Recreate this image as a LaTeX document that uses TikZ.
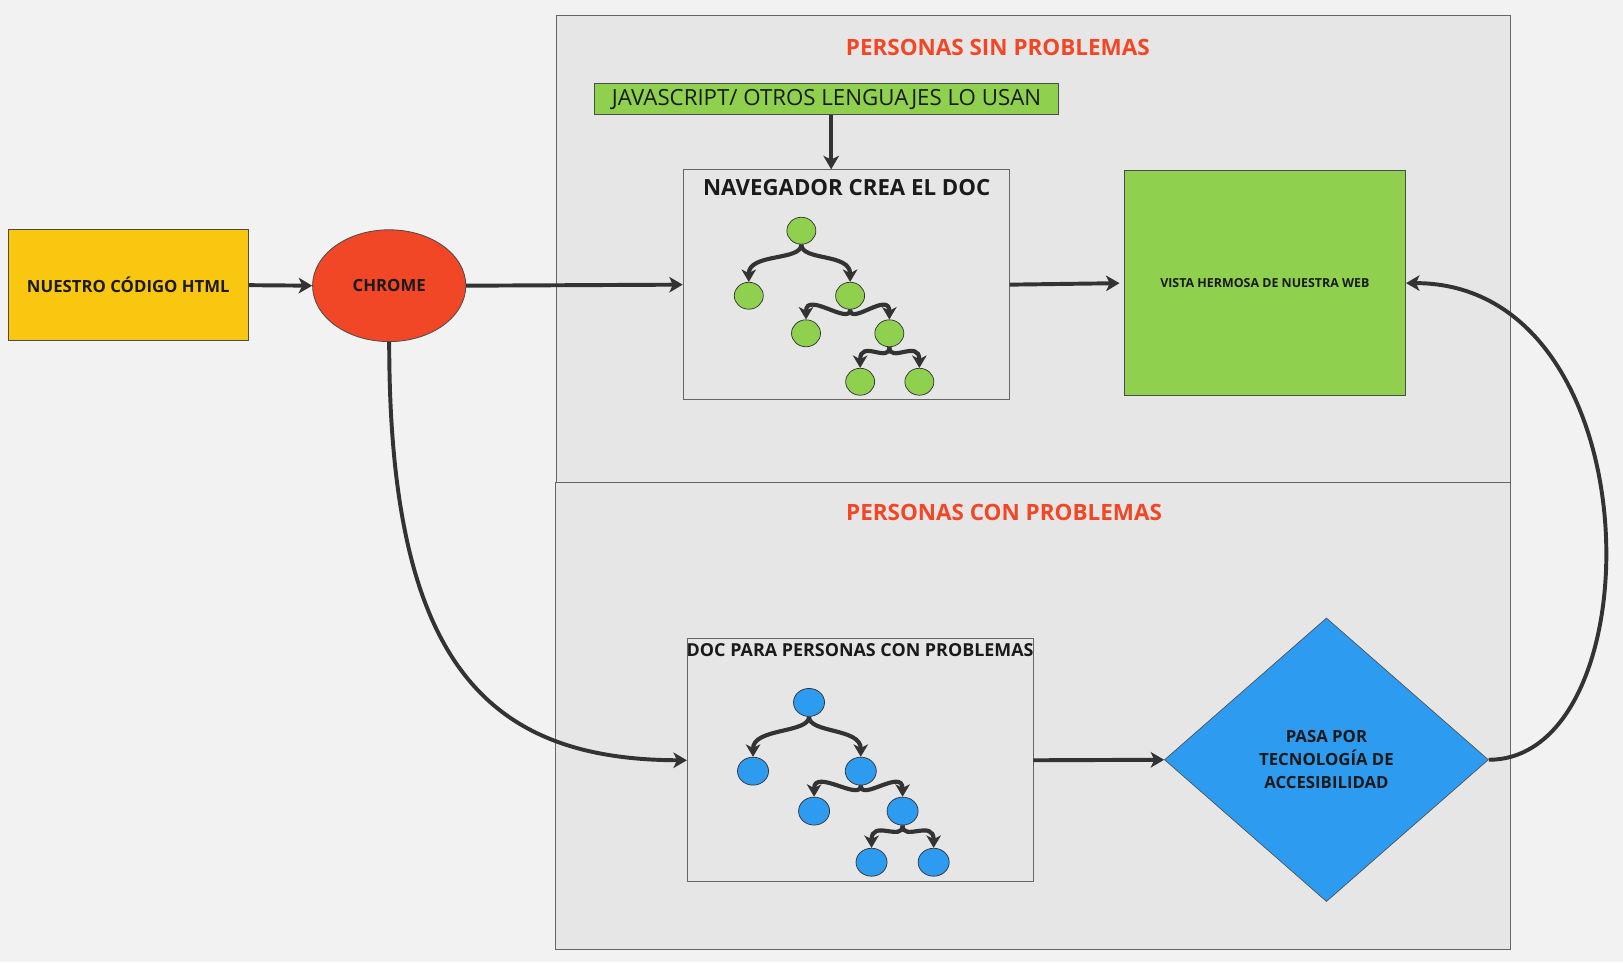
\documentclass[tikz,border=0pt]{standalone}
\usepackage{fontspec}
\setmainfont{Open Sans}
\usetikzlibrary{shapes.geometric,arrows.meta}
\definecolor{bgc}{HTML}{F2F2F2}
\definecolor{framec}{HTML}{E6E6E6}
\definecolor{greenc}{HTML}{8FD14F}
\definecolor{yellowc}{HTML}{FAC710}
\definecolor{redc}{HTML}{F24726}
\definecolor{bluec}{HTML}{2D9BF0}
\definecolor{arrowc}{HTML}{333333}
\definecolor{textc}{HTML}{1A1A1A}
\tikzset{
  box/.style={draw=#1, line width=0.8, inner sep=0, rectangle, text=textc},
  box/.default={black!70},
  mainarrow/.style={draw=arrowc, line width=3.8, -{Stealth[length=13,width=15,inset=3.5]}},
  treearrow/.style={draw=arrowc, line width=4, -{Stealth[length=12,width=14,inset=3.5]}},
  gnode/.style={ellipse, draw=black!80, line width=0.7, fill=greenc, minimum width=28, minimum height=26, inner sep=0},
  bnode/.style={ellipse, draw=black!80, line width=0.7, fill=bluec, minimum width=30, minimum height=27, inner sep=0},
  titletext/.style={text=redc, font=\bfseries\fontsize{21.7}{26}\selectfont, inner sep=0},
}
\newcommand{\treelink}[2]{\draw[treearrow] (#1.south) .. controls +(0,16) and +(0,-28) .. (#2.north);}
\begin{document}
\begin{tikzpicture}[x=1pt,y=-1pt]
\useasboundingbox (0,0) rectangle (1568,929.5);
\fill[bgc] (0,0) rectangle (1568,929.5);
% frames
\node[box=black!60, fill=framec, minimum width=921, minimum height=451] (upper) at (998.5,240.5) {};
\node[box=black!60, fill=framec, minimum width=922, minimum height=451] (lower) at (998,691.5) {};
\node[titletext] (t1) at (964,46) {PERSONAS SIN PROBLEMAS};
\node[titletext] (t2) at (970,495) {PERSONAS CON PROBLEMAS};
% left
\node[box, fill=yellowc, minimum width=232, minimum height=107, font=\bfseries\fontsize{16.2}{19}\selectfont] (html) at (124,275.5) {NUESTRO CÓDIGO HTML};
\node[ellipse, draw=black!70, line width=0.8, fill=redc, minimum width=148, minimum height=108, inner sep=0, text=textc, font=\bfseries\fontsize{16.2}{19}\selectfont] (chrome) at (376,276) {CHROME};
% JS box
\node[box, fill=greenc, minimum width=449, minimum height=30, font=\fontsize{21.5}{25}\selectfont] (js) at (798.5,96) {JAVASCRIPT/ OTROS LENGUAJES LO USAN};
% navegador
\node[box=black!60, fill=framec, minimum width=315, minimum height=222] (nav) at (817.5,275) {};
\node[text=textc, inner sep=0, font=\bfseries\fontsize{21.5}{25}\selectfont] (navt) at (818,181) {NAVEGADOR CREA EL DOC};
% vista
\node[box, fill=greenc, minimum width=272, minimum height=217, font=\bfseries\fontsize{12}{14}\selectfont] (vista) at (1222,273.5) {VISTA HERMOSA DE NUESTRA WEB};
% doc
\node[box=black!60, fill=framec, minimum width=334, minimum height=235] (doc) at (831,734.5) {};
\node[text=textc, inner sep=0, font=\bfseries\fontsize{17.3}{21}\selectfont] (doct) at (831,628) {DOC PARA PERSONAS CON PROBLEMAS};
% diamond
\node[diamond, draw=black!70, line width=0.6, fill=bluec, minimum width=313, minimum height=274, aspect=1.14, inner sep=0, text=textc, align=center, font=\bfseries\fontsize{16.2}{22}\selectfont] (dia) at (1281.5,734) {PASA POR\\TECNOLOGÍA DE\\ACCESIBILIDAD};
% green tree
\node[gnode] (g1) at (774.2,222.9) {};
\node[gnode] (g2) at (723.4,285.7) {};
\node[gnode] (g3) at (821.3,285.7) {};
\node[gnode] (g4) at (778.7,322) {};
\node[gnode] (g5) at (859.2,322) {};
\node[gnode] (g6) at (831,368.8) {};
\node[gnode] (g7) at (888.2,368.8) {};
\treelink{g1}{g2}\treelink{g1}{g3}\treelink{g3}{g4}\treelink{g3}{g5}\treelink{g5}{g6}\treelink{g5}{g7}
% blue tree
\node[bnode] (b1) at (781.6,678.6) {};
\node[bnode] (b2) at (727.5,745) {};
\node[bnode] (b3) at (831.6,745) {};
\node[bnode] (b4) at (786.5,783.6) {};
\node[bnode] (b5) at (872,783.6) {};
\node[bnode] (b6) at (842,833) {};
\node[bnode] (b7) at (902,833) {};
\treelink{b1}{b2}\treelink{b1}{b3}\treelink{b3}{b4}\treelink{b3}{b5}\treelink{b5}{b6}\treelink{b5}{b7}
% connectors
\draw[mainarrow] (html.east) -- (chrome.west);
\draw[mainarrow] (chrome.east) -- (nav.west);
\draw[mainarrow] (js.south -| 803,0) -- (nav.north -| 803,0);
\draw[mainarrow, shorten >=4] (nav.east) -- (vista.west);
\draw[mainarrow] (chrome.south) .. controls (376,640) and (470,734) .. (doc.west);
\draw[mainarrow] (doc.east) -- (dia.west);
\draw[mainarrow] (dia.east) .. controls (1600,734) and (1600,273.5) .. (vista.east);
\end{tikzpicture}
\end{document}
